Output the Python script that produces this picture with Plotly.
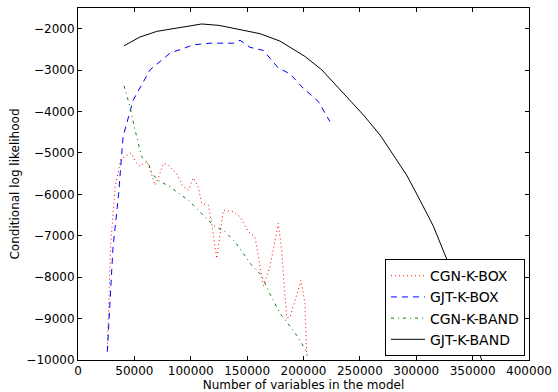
import plotly.graph_objects as go

cgn_box_x = [26000, 29000, 33000, 38000, 47000, 52000, 55000, 61000, 64000, 68300, 71200, 75700, 80100, 87500,
             93400, 97900, 102300, 106700, 109700, 115600, 118600, 123000, 128900, 137800, 143700, 151100, 157000,
             161400, 164400, 170300, 177700, 180600, 185000, 188000, 197800, 201300, 202800]
cgn_box_y = [-9700, -7200, -5800, -5150, -5000, -5250, -5320, -5200, -5410, -5780, -5610, -5250, -5290, -5500,
             -5820, -5900, -5600, -5820, -6220, -6260, -6700, -7550, -6380, -6420, -6540, -6900, -7030,
             -7750, -8200, -7750, -6700, -7350, -8970, -8970, -8080, -8640, -9890]

gjt_box_x = [26000, 31000, 36000, 40000, 49000, 64000, 81600, 102300, 117100, 137800, 143700, 152600, 164400,
             177700, 188000, 199900, 213200, 223500]
gjt_box_y = [-9800, -7300, -6000, -4600, -3720, -2990, -2590, -2390, -2350, -2350, -2280, -2450, -2525,
             -2950, -3090, -3440, -3760, -4245]

cgn_band_x = [40800, 46100, 50600, 53500, 56500, 62400, 65400, 71200, 81600, 97900, 108200, 120000, 130400,
              139300, 146700, 154000, 162900, 167900, 173200, 179200, 186500, 194000, 201300, 203400]
cgn_band_y = [-3380, -3880, -4450, -4770, -5090, -5250, -5490, -5660, -5820, -6140, -6420, -6750, -6900,
              -7150, -7430, -7710, -7960, -8280, -8560, -8880, -9130, -9410, -9730, -9890]

gjt_band_x = [40800, 55000, 69800, 85000, 109700, 125000, 143700, 161400, 179200, 201300, 216200, 253100,
              267900, 291500, 303300, 315200, 328500, 358000]
gjt_band_y = [-2412, -2200, -2065, -1990, -1886, -1920, -2024, -2120, -2300, -2670, -2993, -4082,
              -4566, -5535, -6140, -6770, -7660, -10000]

x_ticks = [0, 50000, 100000, 150000, 200000, 250000, 300000, 350000, 400000]
y_ticks = [-10000, -9000, -8000, -7000, -6000, -5000, -4000, -3000, -2000]

fig = go.Figure()
fig.add_trace(go.Scatter(x=cgn_box_x, y=cgn_box_y, mode="lines", name="CGN-K-BOX",
                         line=dict(color="#ff0000", width=1, dash="1px,3px")))
fig.add_trace(go.Scatter(x=gjt_box_x, y=gjt_box_y, mode="lines", name="GJT-K-BOX",
                         line=dict(color="#0000ff", width=1, dash="6px,5px")))
fig.add_trace(go.Scatter(x=cgn_band_x, y=cgn_band_y, mode="lines", name="CGN-K-BAND",
                         line=dict(color="#008000", width=1, dash="3px,4px,1px,4px")))
fig.add_trace(go.Scatter(x=gjt_band_x, y=gjt_band_y, mode="lines", name="GJT-K-BAND",
                         line=dict(color="#000000", width=1)))

font = dict(family="DejaVu Sans", size=12, color="black")
fig.update_layout(
    width=558, height=392,
    margin=dict(l=78, r=29, t=8, b=32),
    paper_bgcolor="white", plot_bgcolor="white",
    font=font,
    showlegend=True,
    legend=dict(x=0.991, y=0.011, xanchor="right", yanchor="bottom",
                bordercolor="black", borderwidth=1, bgcolor="white", itemwidth=34,
                font=dict(family="DejaVu Sans", size=14, color="black"), tracegroupgap=0),
)
fig.update_xaxes(range=[0, 400000], tickvals=x_ticks, ticktext=[str(v) for v in x_ticks],
                 ticks="inside", ticklen=4, tickcolor="black", showline=True, linecolor="black",
                 mirror="ticks", showgrid=False, zeroline=False,
                 title=dict(text="Number of variables in the model", standoff=0, font=font),
                 automargin=False)
fig.update_yaxes(range=[-10000, -1500], tickvals=y_ticks, ticktext=["\u2212" + str(-v) for v in y_ticks],
                 ticks="inside", ticklen=4, tickcolor="black", showline=True, linecolor="black",
                 mirror="ticks", showgrid=False, zeroline=False,
                 title=dict(text="Conditional log likelihood", standoff=4, font=font),
                 automargin=False)

fig.write_html("out.html", config={"displayModeBar": False},
               post_script="document.body.style.margin='0px';document.body.style.overflow='hidden';")
